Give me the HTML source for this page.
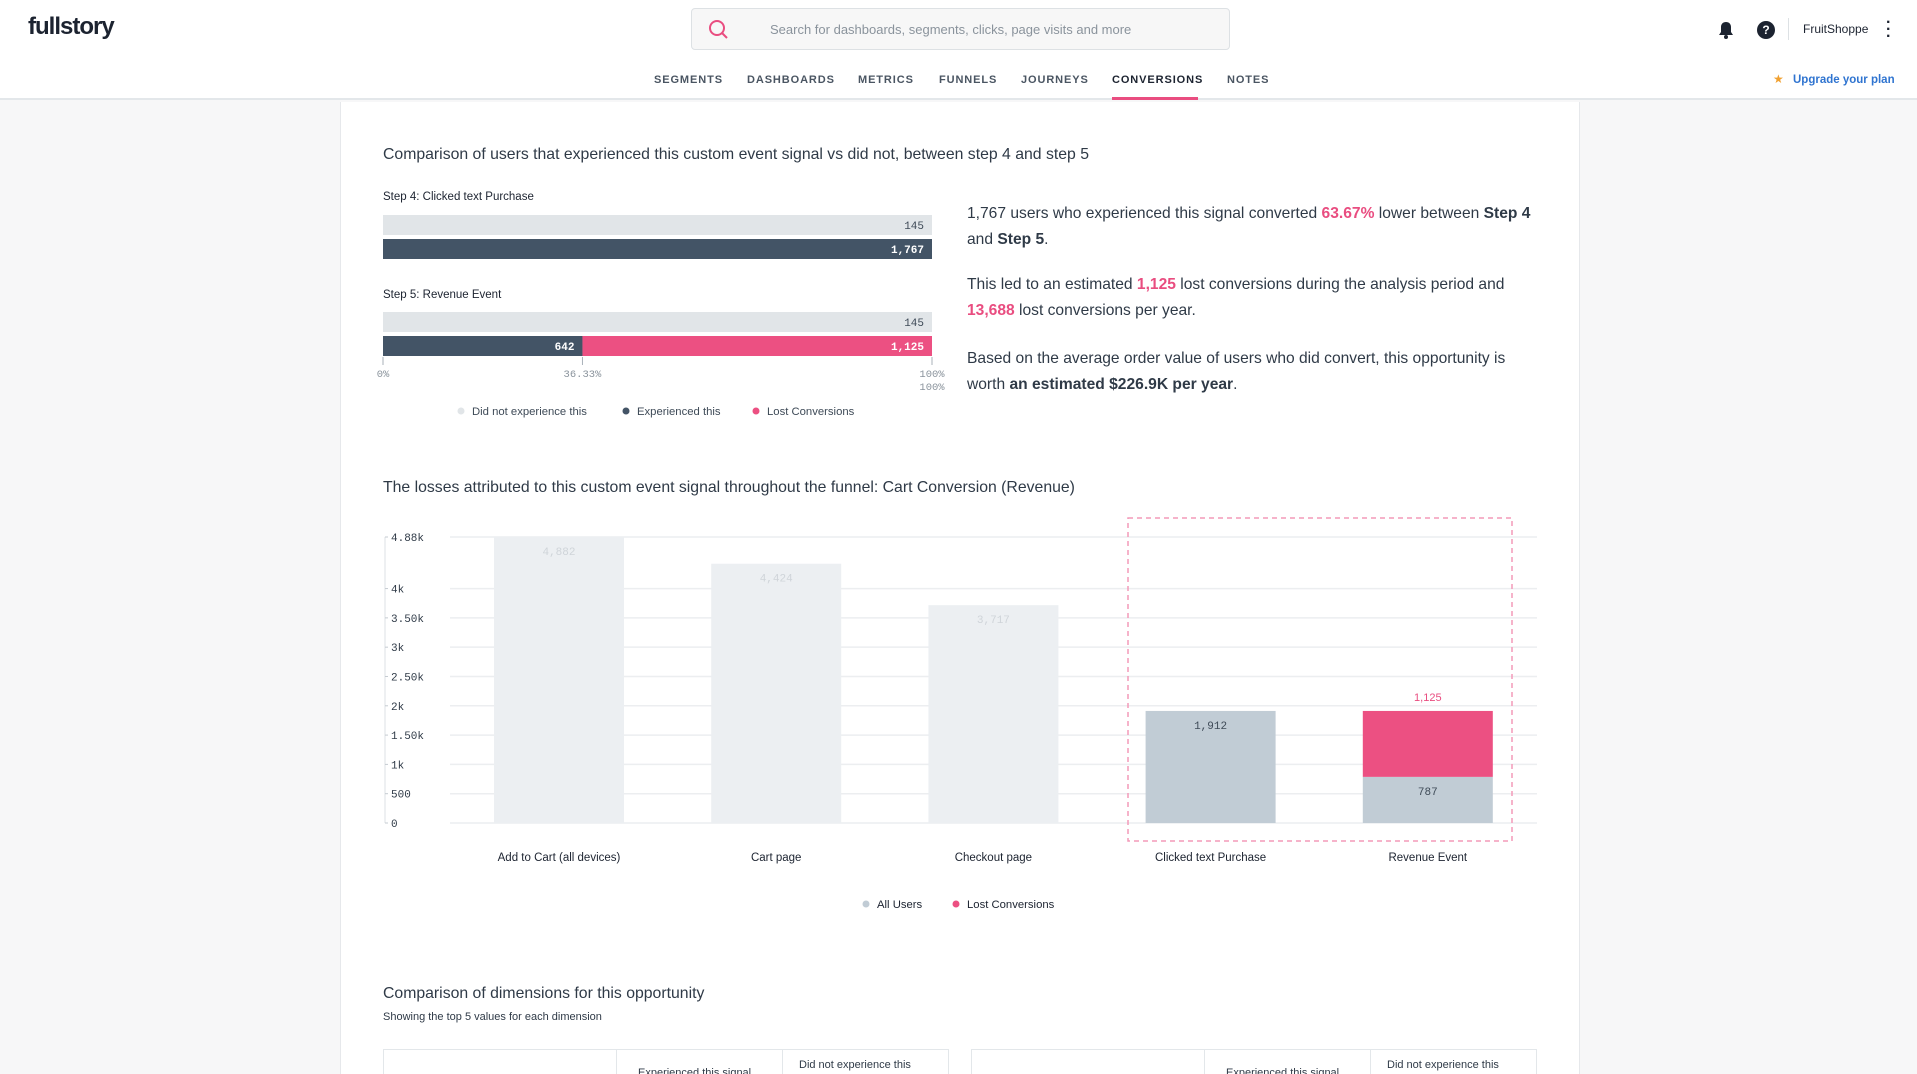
<!DOCTYPE html>
<html><head><meta charset="utf-8">
<style>
*{box-sizing:border-box;margin:0;padding:0}
html,body{width:1917px;height:1074px;overflow:hidden}
body{background:#f7f7f8;font-family:"Liberation Sans",sans-serif;color:#2f3a47;position:relative}
.abs{position:absolute;white-space:nowrap}
#header{position:absolute;left:0;top:0;width:1917px;height:100px;background:#fff;border-bottom:2px solid #e3e7ea}
.nav{position:absolute;top:74px;font-size:11px;letter-spacing:0.9px;color:#4a5562;font-weight:bold}
#panel{position:absolute;left:340px;top:102px;width:1240px;height:990px;background:#fff;border-left:1px solid #e6e8eb;border-right:1px solid #e6e8eb}
.pink{color:#e94d80;font-weight:bold}
.para{font-size:15.6px;line-height:26px;color:#2f3a47}
</style></head><body>
<div id="header">
  <div class="abs" style="left:28px;top:13px;font-size:24px;font-weight:bold;color:#1c2330;letter-spacing:-1px">fullstory</div>
  <div class="abs" style="left:691px;top:8px;width:539px;height:42px;background:#f7f7f7;border:1px solid #dde1e4;border-radius:4px">
    <svg width="22" height="22" style="position:absolute;left:16px;top:10px"><circle cx="9" cy="9" r="7" fill="none" stroke="#e94d80" stroke-width="2"/><line x1="14" y1="14" x2="19" y2="19" stroke="#e94d80" stroke-width="2"/></svg>
    <span class="abs" style="left:78px;top:13px;font-size:13px;color:#8a939c">Search for dashboards, segments, clicks, page visits and more</span>
  </div>
  <svg class="abs" style="left:1718px;top:21px" width="16" height="18"><path d="M8 1c-3 0-5 2-5 5v5l-2 3h14l-2-3V6c0-3-2-5-5-5z" fill="#1c2330"/><circle cx="8" cy="16" r="2" fill="#1c2330"/></svg>
  <div class="abs" style="left:1757px;top:21px;width:18px;height:18px;border-radius:50%;background:#1c2330;color:#fff;font-size:12px;font-weight:bold;text-align:center;line-height:18px">?</div>
  <div class="abs" style="left:1788px;top:18px;width:1px;height:22px;background:#dde1e4"></div>
  <div class="abs" style="left:1803px;top:22px;font-size:12px;color:#1c2330">FruitShoppe</div>
  <div class="abs" style="left:1886px;top:19px;font-size:16px;font-weight:bold;color:#1c2330;line-height:7px">·<br>·<br>·</div>
  <div class="nav" style="left:654px">SEGMENTS</div>
  <div class="nav" style="left:747px">DASHBOARDS</div>
  <div class="nav" style="left:858px">METRICS</div>
  <div class="nav" style="left:939px">FUNNELS</div>
  <div class="nav" style="left:1021px">JOURNEYS</div>
  <div class="nav" style="left:1112px;color:#1c2330">CONVERSIONS</div>
  <div class="abs" style="left:1112px;top:97px;width:86px;height:3px;background:#e94d80"></div>
  <div class="nav" style="left:1227px">NOTES</div>
  <div class="abs" style="left:1773px;top:72px;font-size:12px;color:#f0a030">★</div>
  <div class="abs" style="left:1793px;top:74px;font-size:11.5px;color:#2f74d0;font-weight:bold">Upgrade your plan</div>
</div>
<div id="panel"></div>

<div class="abs" style="left:383px;top:146px;font-size:15.8px;color:#2f3a47">Comparison of users that experienced this custom event signal vs did not, between step 4 and step 5</div>
<div class="abs" style="left:383px;top:191px;font-size:11.5px;color:#1c2330">Step 4: Clicked text Purchase</div>
<div class="abs" style="left:383px;top:289px;font-size:11.5px;color:#1c2330">Step 5: Revenue Event</div>

<svg id="c1" class="abs" style="left:0;top:0" width="1917" height="1074"></svg>

<div class="abs para" style="left:967px;top:201px">1,767 users who experienced this signal converted <span class="pink">63.67%</span> lower between <b>Step 4</b><br>and <b>Step 5</b>.</div>
<div class="abs para" style="left:967px;top:272px">This led to an estimated <span class="pink">1,125</span> lost conversions during the analysis period and<br><span class="pink">13,688</span> lost conversions per year.</div>
<div class="abs para" style="left:967px;top:346px">Based on the average order value of users who did convert, this opportunity is<br>worth <b>an estimated $226.9K per year</b>.</div>

<div class="abs" style="left:383px;top:479px;font-size:15.8px;color:#2f3a47">The losses attributed to this custom event signal throughout the funnel: Cart Conversion (Revenue)</div>

<div class="abs" style="left:383px;top:985px;font-size:15.8px;color:#2f3a47">Comparison of dimensions for this opportunity</div>
<div class="abs" style="left:383px;top:1011px;font-size:11px;color:#2f3a47">Showing the top 5 values for each dimension</div>
<div class="abs" style="left:383px;top:1049px;width:566px;height:40px;border:1px solid #e3e7ea;background:#fff">
  <div class="abs" style="left:232px;top:0;width:1px;height:40px;background:#e3e7ea"></div>
  <div class="abs" style="left:398px;top:0;width:1px;height:40px;background:#e3e7ea"></div>
  <div class="abs" style="left:254px;top:17px;font-size:11px">Experienced this signal</div>
  <div class="abs" style="left:415px;top:9px;font-size:11px">Did not experience this</div>
</div>
<div class="abs" style="left:971px;top:1049px;width:566px;height:40px;border:1px solid #e3e7ea;background:#fff">
  <div class="abs" style="left:232px;top:0;width:1px;height:40px;background:#e3e7ea"></div>
  <div class="abs" style="left:398px;top:0;width:1px;height:40px;background:#e3e7ea"></div>
  <div class="abs" style="left:254px;top:17px;font-size:11px">Experienced this signal</div>
  <div class="abs" style="left:415px;top:9px;font-size:11px">Did not experience this</div>
</div>

<script>
// ---- Chart 1 data ----
const c1Steps = ["Step 4", "Step 5"];
const c1DidNot = [145, 145];
const c1Experienced = [1767, 642];
const c1Lost = [0, 1125];
const c1Total = 1767;

// ---- Chart 2 data ----
const c2Categories = ["Add to Cart (all devices)", "Cart page", "Checkout page", "Clicked text Purchase", "Revenue Event"];
const c2AllUsers = [4882, 4424, 3717, 1912, 787];
const c2Lost = [0, 0, 0, 0, 1125];
const c2Ticks = [0, 500, 1000, 1500, 2000, 2500, 3000, 3500, 4000, 4880];
const c2TickLabels = ["0", "500", "1k", "1.50k", "2k", "2.50k", "3k", "3.50k", "4k", "4.88k"];
const c2Max = 4880;

const NS = "http://www.w3.org/2000/svg";
const svg = document.getElementById('c1');
function mk(tag, attrs, text) {
  const e = document.createElementNS(NS, tag);
  for (const k in attrs) e.setAttribute(k, attrs[k]);
  if (text !== undefined) e.textContent = text;
  svg.appendChild(e);
  return e;
}
function fmt(n){return n.toLocaleString('en-US');}

// chart 1
const x1 = v => 383 + (v / c1Total) * (932 - 383);
const rowTop = [215, 312];
c1Steps.forEach((s, i) => {
  const y0 = rowTop[i];
  let e = mk('rect', {x: 383, y: y0, width: 549, height: 20, fill: '#e1e5e8'});
  
  
  mk('text', {x: 924, y: y0 + 14, 'text-anchor': 'end', 'font-size': 11, 'font-family': 'Liberation Mono, monospace', fill: '#3e4a57'}, fmt(c1DidNot[i]));
  const ex = x1(c1Experienced[i]);
  e = mk('rect', {x: 383, y: y0 + 24, width: ex - 383, height: 20, fill: '#435466'});
  
  
  mk('text', {x: ex - 8, y: y0 + 38, 'text-anchor': 'end', 'font-size': 11, 'font-weight': 'bold', 'font-family': 'Liberation Mono, monospace', fill: '#fff'}, fmt(c1Experienced[i]));
  if (c1Lost[i] > 0) {
    const lx = x1(c1Experienced[i] + c1Lost[i]);
    e = mk('rect', {x: ex, y: y0 + 24, width: lx - ex, height: 20, fill: '#ec5082'});
    
    
    mk('text', {x: lx - 8, y: y0 + 38, 'text-anchor': 'end', 'font-size': 11, 'font-weight': 'bold', 'font-family': 'Liberation Mono, monospace', fill: '#fff'}, fmt(c1Lost[i]));
  }
});
const pct = c1Experienced[1] / c1Total * 100;
[[0, '0%'], [pct, pct.toFixed(2) + '%'], [100, '100%']].forEach(([p, l]) => {
  const x = 383 + p / 100 * 549;
  mk('line', {x1: x, x2: x, y1: 357, y2: 365, stroke: '#aab2ba'});
  mk('text', {x: x, y: 377, 'text-anchor': 'middle', 'font-size': 10.5, 'font-family': 'Liberation Mono, monospace', fill: '#8a939c'}, l);
});
mk('text', {x: 932, y: 390, 'text-anchor': 'middle', 'font-size': 10.5, 'font-family': 'Liberation Mono, monospace', fill: '#8a939c'}, '100%');
[[461, '#e1e5e8', 'Did not experience this'], [626, '#435466', 'Experienced this'], [756, '#ec5082', 'Lost Conversions']].forEach(([x, c, t]) => {
  let e = mk('circle', {cx: x, cy: 411, r: 3.5, fill: c});
  
  
  mk('text', {x: x + 11, y: 415, 'font-size': 11.3, fill: '#3e4a57'}, t);
});

// chart 2
const yTop = 537, yBot = 823;
const y2 = v => yBot - v / c2Max * (yBot - yTop);
const xc = i => 559 + i * 217.2;
const bw = 130;
mk('line', {x1: 385, x2: 385, y1: yTop, y2: yBot, stroke: '#dde1e4'});
c2Ticks.forEach((t, i) => {
  const y = y2(t);
  let e = mk('line', {x1: 450, x2: 1537, y1: y, y2: y, stroke: '#eceef0', 'stroke-width': 1.5});
  
  
  mk('line', {x1: 385, x2: 388, y1: y, y2: y, stroke: '#c5cbd1'});
  mk('text', {x: 391, y: y + 4, 'font-size': 11, 'font-family': 'Liberation Mono, monospace', fill: '#2f3a47'}, c2TickLabels[i]);
});
c2Categories.forEach((c, i) => {
  const highlight = i >= 3;
  const v = c2AllUsers[i];
  let e = mk('rect', {x: xc(i) - bw / 2, y: y2(v), width: bw, height: yBot - y2(v), fill: highlight ? '#c1ccd5' : '#eceff2'});
  
  
  const lost = c2Lost[i];
  if (lost > 0) {
    e = mk('rect', {x: xc(i) - bw / 2, y: y2(v + lost), width: bw, height: y2(v) - y2(v + lost), fill: '#ec5082'});
    
    
    mk('text', {x: xc(i), y: y2(v + lost) - 10, 'text-anchor': 'middle', 'font-size': 11, fill: '#e94d80'}, fmt(lost));
    mk('text', {x: xc(i), y: y2(v) + 18, 'text-anchor': 'middle', 'font-size': 11, 'font-family': 'Liberation Mono, monospace', fill: '#3e4a57'}, fmt(v));
  } else {
    mk('text', {x: xc(i), y: y2(v) + 18, 'text-anchor': 'middle', 'font-size': 11, 'font-family': 'Liberation Mono, monospace', fill: highlight ? '#3e4a57' : '#cfd4d9'}, fmt(v));
  }
  mk('text', {x: xc(i), y: 861, 'text-anchor': 'middle', 'font-size': 11.5, fill: '#1c2330'}, c);
});
let hb = mk('rect', {x: 1128, y: 518, width: 384, height: 323, fill: 'none', stroke: '#f49ab9', 'stroke-width': 1.5, 'stroke-dasharray': '5,4'});


[[866, '#c1ccd5', 'All Users'], [956, '#ec5082', 'Lost Conversions']].forEach(([x, c, t]) => {
  let e = mk('circle', {cx: x, cy: 904, r: 3.5, fill: c});
  
  
  mk('text', {x: x + 11, y: 908, 'font-size': 11.3, fill: '#1c2330'}, t);
});
</script>
</body></html>
